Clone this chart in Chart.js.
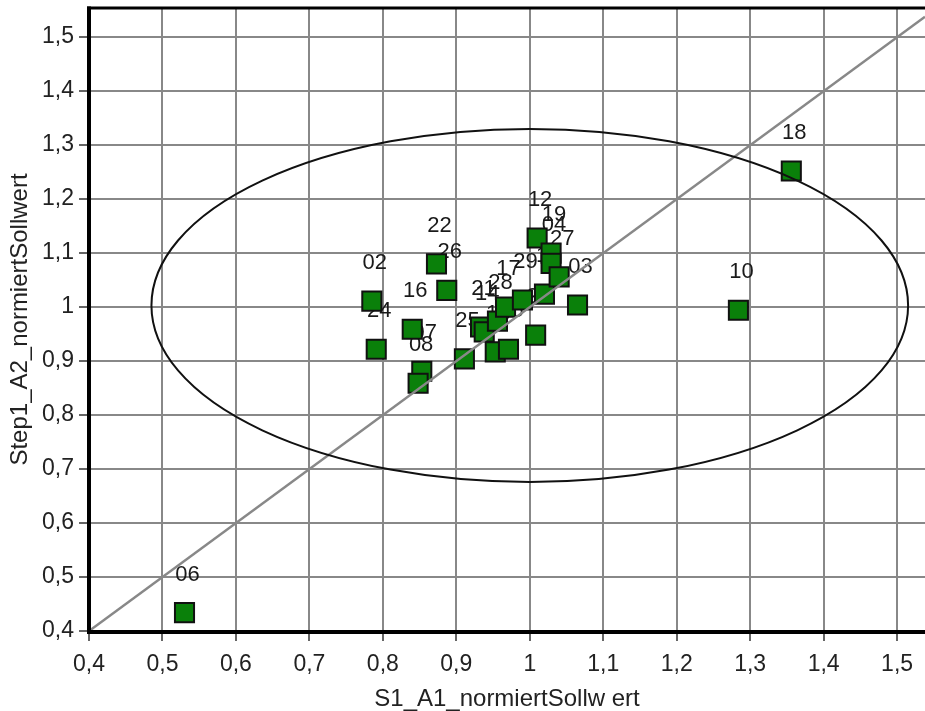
<!DOCTYPE html>
<html><head><meta charset="utf-8">
<script src="https://cdn.jsdelivr.net/npm/chart.js@4/dist/chart.umd.min.js"></script>
<style>html,body{margin:0;padding:0;background:#fff;}#wrap{width:925px;height:711px;}</style>
</head><body><div id="wrap"><canvas id="c" width="925" height="711"></canvas></div>
<script>
// ---- data ----
const pointIds = ['06','18','10','02','24','22','26','16','07','08','25','21','14','28','17','13','15','29','20','12','11','19','04','27','03'];
const xValues  = [0.530,1.356,1.284,0.785,0.791,0.873,0.887,0.840,0.853,0.848,0.911,0.933,0.938,0.956,0.967,0.953,0.971,0.990,1.008,1.010,1.020,1.029,1.029,1.040,1.065];
const yValues  = [0.434,1.252,0.994,1.011,0.922,1.080,1.031,0.959,0.881,0.859,0.904,0.963,0.954,0.974,1.000,0.917,0.922,1.013,0.948,1.128,1.024,1.100,1.081,1.056,1.004];
const diagX = [0.4, 1.538];
const diagY = [0.4, 1.538];
const xRange = [0.4, 1.538];
const yRange = [0.4, 1.554];
const tickStep = 0.02;
const majorStep = 0.1;
const majorMax = 1.5;
const ellipseCenter = [1.0, 1.003];
const ellipseRadii = [0.515, 0.327];
const xTitle = 'S1_A1_normiertSollw ert';
const yTitle = 'Step1_A2_normiertSollwert';

const FONT = "'Liberation Sans', Arial, sans-serif";
function isMajor(v){ return Math.abs(v/majorStep - Math.round(v/majorStep)) < 1e-6 && v <= majorMax + 1e-9; }
function fmt(v){ let s = (Math.round(v*10)/10).toFixed(1); if (s.endsWith('.0')) s = s.slice(0,-2); return s.replace('.', ','); }

const scatterData = xValues.map((x,i)=>({x:x, y:yValues[i]}));
const diagData = diagX.map((x,i)=>({x:x, y:diagY[i]}));

const overlay = {
  id:'overlay',
  beforeDatasetDraw(chart, args){
    if (args.index !== 0) return;
    const ctx = chart.ctx, xs = chart.scales.x, ys = chart.scales.y;
    ctx.save();
    ctx.font = "22px " + FONT;
    ctx.fillStyle = '#1a1a1a';
    ctx.textAlign = 'center';
    ctx.textBaseline = 'middle';
    pointIds.forEach((id,i)=>{
      ctx.fillText(id, xs.getPixelForValue(xValues[i]) + 3, ys.getPixelForValue(yValues[i]) - 38);
    });
    ctx.restore();
  },
  afterDatasetsDraw(chart){
    const ctx = chart.ctx, xs = chart.scales.x, ys = chart.scales.y;
    ctx.save();
    const cx = xs.getPixelForValue(ellipseCenter[0]), cy = ys.getPixelForValue(ellipseCenter[1]);
    const rx = xs.getPixelForValue(ellipseCenter[0] + ellipseRadii[0]) - cx;
    const ry = cy - ys.getPixelForValue(ellipseCenter[1] + ellipseRadii[1]);
    ctx.beginPath();
    ctx.ellipse(cx, cy, rx, ry, 0, 0, Math.PI*2);
    ctx.strokeStyle = '#111';
    ctx.lineWidth = 2;
    ctx.stroke();
    ctx.restore();
  },
  afterDraw(chart){
    const ctx = chart.ctx, xs = chart.scales.x, ys = chart.scales.y, a = chart.chartArea;
    ctx.save();
    ctx.strokeStyle = '#666';
    ctx.lineWidth = 2;
    xs.ticks.forEach(t=>{
      if (t.value > majorMax + 1e-9) return;
      const px = Math.round(xs.getPixelForValue(t.value));
      const len = isMajor(t.value) ? 10 : 6;
      ctx.beginPath(); ctx.moveTo(px, a.bottom); ctx.lineTo(px, a.bottom + len); ctx.stroke();
    });
    ys.ticks.forEach(t=>{
      if (t.value > majorMax + 1e-9) return;
      const py = Math.round(ys.getPixelForValue(t.value));
      const len = isMajor(t.value) ? 10 : 6;
      ctx.beginPath(); ctx.moveTo(a.left, py); ctx.lineTo(a.left - len, py); ctx.stroke();
    });
    ctx.strokeStyle = '#000';
    ctx.lineWidth = 3;
    ctx.beginPath(); ctx.moveTo(a.left - 2, a.top); ctx.lineTo(a.right, a.top); ctx.stroke();
    ctx.lineWidth = 4;
    ctx.beginPath(); ctx.moveTo(a.left, a.top - 1.5); ctx.lineTo(a.left, a.bottom + 1); ctx.lineTo(a.right, a.bottom + 1); ctx.stroke();
    ctx.restore();
  }
};

function gridCfg(len){
  return {
    color: c => (c.tick && isMajor(c.tick.value)) ? '#888888' : 'rgba(0,0,0,0)',
    lineWidth: 2,
    drawTicks: true,
    tickLength: len,
    tickColor: 'rgba(0,0,0,0)'
  };
}
function zeroPad(s){ s.paddingTop = 0; s.paddingBottom = 0; s.paddingLeft = 0; s.paddingRight = 0; }

new Chart(document.getElementById('c'), {
  type: 'scatter',
  data: { datasets: [
    { data: scatterData, pointStyle: 'rect', pointRadius: 13.5, pointHoverRadius: 13.5,
      backgroundColor: '#0a800a', borderColor: '#111', borderWidth: 2, order: 1 },
    { type: 'line', data: diagData, showLine: true, borderColor: '#888888', borderWidth: 2.5,
      pointRadius: 0, fill: false, order: 0 }
  ]},
  options: {
    responsive: false, animation: false, devicePixelRatio: 1,
    layout: { autoPadding: false, padding: { top: 8, right: 0, left: 0, bottom: 0 } },
    plugins: { legend: { display: false }, tooltip: { enabled: false } },
    scales: {
      x: { type: 'linear', position: 'bottom', min: xRange[0], max: xRange[1],
        grid: gridCfg(20), border: { display: false },
        ticks: { stepSize: tickStep, autoSkip: false, maxRotation: 0, padding: 0,
          font: { family: FONT, size: 23 }, color: '#222',
          callback: v => isMajor(v) ? fmt(v) : null },
        title: { display: true, text: xTitle, font: { family: FONT, size: 24 }, color: '#222', padding: { top: 0, bottom: -3 } },
        afterFit: s => { s.height = 80; zeroPad(s); }
      },
      y: { type: 'linear', position: 'left', min: yRange[0], max: yRange[1],
        grid: gridCfg(15), border: { display: false },
        ticks: { stepSize: tickStep, autoSkip: false, padding: 0,
          font: { family: FONT, size: 23 }, color: '#222',
          callback: v => isMajor(v) ? fmt(v) : null },
        title: { display: true, text: yTitle, font: { family: FONT, size: 24 }, color: '#222', padding: { top: 6, bottom: 0 } },
        afterFit: s => { s.width = 89; zeroPad(s); }
      }
    }
  },
  plugins: [overlay]
});
</script></body></html>
